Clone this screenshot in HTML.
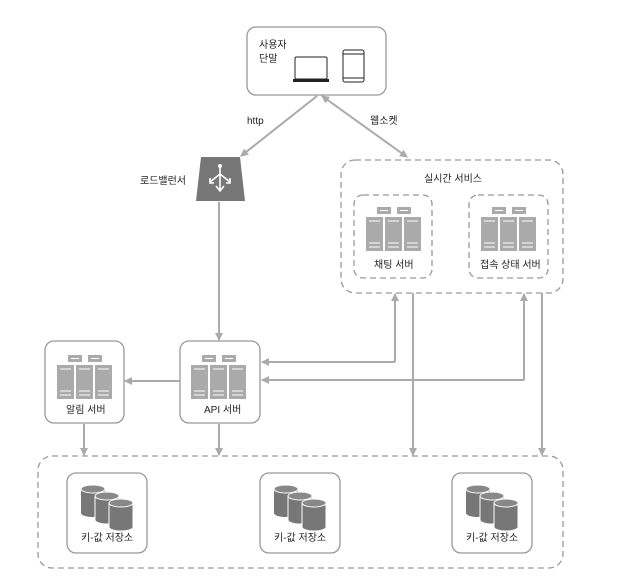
<!DOCTYPE html>
<html><head><meta charset="utf-8"><style>
html,body{margin:0;padding:0;background:#fff}
svg text{font-family:"Liberation Sans","Noto Sans CJK KR",sans-serif;font-size:10px;fill:#222}
</style></head><body>
<svg width="634" height="581" viewBox="0 0 634 581" xmlns="http://www.w3.org/2000/svg">
<defs>
<marker id="a" markerWidth="8" markerHeight="8" refX="7" refY="4" orient="auto" markerUnits="userSpaceOnUse"><path d="M0,0 L8,4 L0,8 z" fill="#aaa"/></marker>
<marker id="as" markerWidth="8" markerHeight="8" refX="1" refY="4" orient="auto" markerUnits="userSpaceOnUse"><path d="M8,0 L0,4 L8,8 z" fill="#aaa"/></marker>
<g id="srv">
<rect x="11" y="0" width="14" height="7" fill="#aaa"/><rect x="31" y="0" width="14" height="7" fill="#aaa"/>
<rect x="0" y="10" width="17" height="34" fill="#aaa"/><rect x="19" y="10" width="17" height="34" fill="#aaa"/><rect x="38" y="10" width="17" height="34" fill="#aaa"/>
<g stroke="#fff" stroke-width="1"><path d="M3,14h11M22,14h11M41,14h11M3,36h11M22,36h11M41,36h11M3,40h11M22,40h11M41,40h11M14,3.5h8M34,3.5h8"/></g>
</g>
<g id="cyl">
<path d="M0,4 v24 a12,4 0 0 0 24,0 v-24" fill="#777"/><ellipse cx="12" cy="4" rx="12" ry="4" fill="#888" stroke="#fff"/>
<path d="M14,11 v24 a12,4 0 0 0 24,0 v-24" fill="#777" stroke="#fff"/><ellipse cx="26" cy="11" rx="12" ry="4" fill="#888" stroke="#fff"/>
<path d="M28,18 v24 a12,4 0 0 0 24,0 v-24" fill="#777" stroke="#fff"/><ellipse cx="40" cy="18" rx="12" ry="4" fill="#888" stroke="#fff"/>
</g>
</defs>

<!-- terminal -->
<rect x="247" y="27" width="139" height="68" rx="9" fill="none" stroke="#999" stroke-width="1.3"/>
<text x="259" y="48">사용자</text><text x="259" y="62">단말</text>
<rect x="295" y="57" width="32" height="22" rx="1.5" fill="none" stroke="#222"/>
<rect x="293" y="79" width="36" height="3" fill="#222"/>
<rect x="343" y="50" width="21" height="32" rx="2" fill="none" stroke="#222"/>
<path d="M343,54h21M343,78h21" stroke="#222"/>

<!-- connectors top -->
<line x1="317" y1="96" x2="241" y2="156" stroke="#aaa" stroke-width="2" marker-end="url(#a)"/>
<line x1="322" y1="96" x2="407" y2="157" stroke="#aaa" stroke-width="2" marker-end="url(#a)" marker-start="url(#as)"/>
<text x="247" y="124">http</text>
<text x="370" y="124">웹소켓</text>

<!-- LB -->
<path d="M201,157 H240 L245,201 H196 Z" fill="#777"/>
<g stroke="#fff" stroke-width="1.6" fill="none">
<path d="M220,166 V190 M220,174 L210,182 M220,174 L230,182 M216,186 L220,191 L224,186 M210,178 V183 H214 M230,178 V183 H226"/>
</g>
<circle cx="220" cy="166" r="2" fill="#fff"/>
<text x="140" y="184">로드밸런서</text>
<line x1="219" y1="202" x2="219" y2="340" stroke="#aaa" stroke-width="2" marker-end="url(#a)"/>

<!-- realtime service -->
<rect x="341" y="160" width="222" height="133" rx="14" fill="none" stroke="#999" stroke-width="1.3" stroke-dasharray="6,4"/>
<text x="424" y="182">실시간 서비스</text>
<rect x="354" y="195" width="78" height="83" rx="9" fill="none" stroke="#999" stroke-width="1.3" stroke-dasharray="6,4"/>
<use href="#srv" x="366" y="207"/>
<text x="374" y="268">채팅 서버</text>
<rect x="469" y="195" width="79" height="83" rx="9" fill="none" stroke="#999" stroke-width="1.3" stroke-dasharray="6,4"/>
<use href="#srv" x="481" y="207"/>
<text x="480" y="268">접속 상태 서버</text>

<!-- API / alarm -->
<rect x="180" y="341" width="80" height="82" rx="9" fill="none" stroke="#999" stroke-width="1.3"/>
<use href="#srv" x="191" y="355"/>
<text x="204" y="413">API 서버</text>
<rect x="45" y="341" width="79" height="82" rx="9" fill="none" stroke="#999" stroke-width="1.3"/>
<use href="#srv" x="57" y="355"/>
<text x="66" y="413">알림 서버</text>
<line x1="180" y1="381" x2="125" y2="381" stroke="#aaa" stroke-width="2" marker-end="url(#a)"/>

<!-- right connectors -->
<g stroke="#aaa" stroke-width="2" fill="none">
<path d="M395,362 H262" marker-end="url(#a)"/>
<path d="M395,362 V294" marker-end="url(#a)"/>
<path d="M524,380 H262" marker-end="url(#a)"/>
<path d="M524,380 V294" marker-end="url(#a)"/>
<path d="M413,293 V455" marker-end="url(#a)"/>
<path d="M542,293 V455" marker-end="url(#a)"/>
<path d="M84,424 V455" marker-end="url(#a)"/>
<path d="M219,424 V455" marker-end="url(#a)"/>
</g>

<!-- storage -->
<rect x="38" y="456" width="525" height="112" rx="14" fill="none" stroke="#999" stroke-width="1.3" stroke-dasharray="6,4"/>
<rect x="67" y="473" width="80" height="80" rx="9" fill="none" stroke="#999" stroke-width="1.3"/>
<use href="#cyl" x="81" y="485"/>
<text x="81" y="541">키-값 저장소</text>
<rect x="260" y="473" width="80" height="80" rx="9" fill="none" stroke="#999" stroke-width="1.3"/>
<use href="#cyl" x="274" y="485"/>
<text x="274" y="541">키-값 저장소</text>
<rect x="452" y="473" width="80" height="80" rx="9" fill="none" stroke="#999" stroke-width="1.3"/>
<use href="#cyl" x="466" y="485"/>
<text x="466" y="541">키-값 저장소</text>
</svg>
</body></html>
